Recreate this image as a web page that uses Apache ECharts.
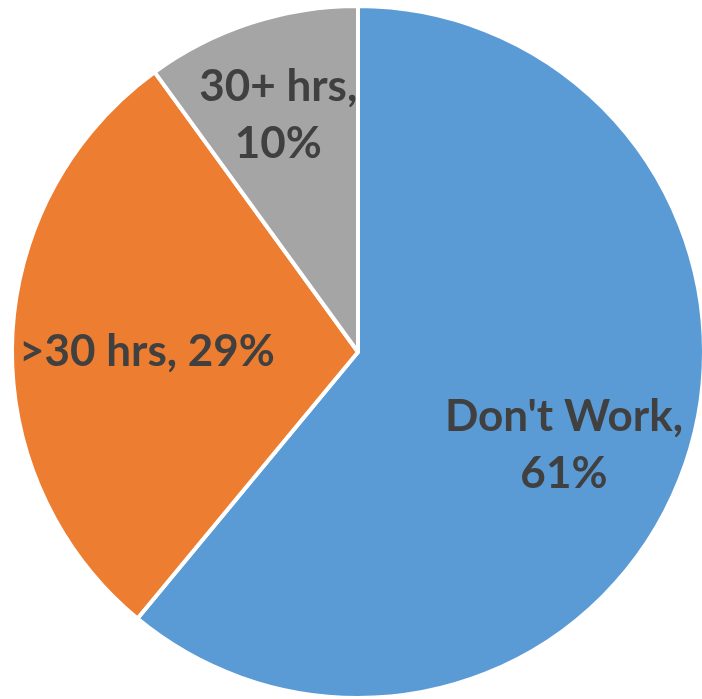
<!DOCTYPE html>
<html>
<head>
<meta charset="utf-8">
<script src="https://cdn.jsdelivr.net/npm/echarts@6/dist/echarts.min.js"></script>
<style>
  html, body { margin: 0; padding: 0; background: #ffffff; }
  #chart { width: 702px; height: 699px; }
</style>
</head>
<body>
<div id="chart"></div>
<script>
// Weekly work hours breakdown
const categories = ["Don't Work", '>30 hrs', '30+ hrs'];
const shares = [61, 29, 10];
const sliceColors = ['#5B9BD5', '#ED7D31', '#A5A5A5'];
// Which labels break onto two lines
const wrapLabel = [true, false, true];

// Label placement: fraction of the radius and a small angular nudge (degrees)
const LABEL_PLACE = [
  { frac: 0.653, nudge: 4.5 },
  { frac: 0.610, nudge: -1.8 },
  { frac: 0.723, nudge: -0.6 }
];

const CX = 358, CY = 352, R = 346;

const total = shares.reduce((a, b) => a + b, 0);
const midAngles = [];
let acc = 0;
shares.forEach(v => {
  midAngles.push(((acc + v / 2) / total) * Math.PI * 2);
  acc += v;
});

const chart = echarts.init(document.getElementById('chart'), null, { renderer: 'canvas' });

chart.setOption({
  animation: false,
  backgroundColor: '#ffffff',
  series: [{
    type: 'pie',
    center: [CX, CY],
    radius: [0, R],
    startAngle: 90,
    clockwise: true,
    data: categories.map((name, i) => ({
      name: name,
      value: shares[i],
      itemStyle: { color: sliceColors[i] }
    })),
    itemStyle: { borderColor: '#ffffff', borderWidth: 4 },
    label: {
      show: true,
      position: 'inside',
      color: '#404040',
      fontFamily: 'Lato',
      fontWeight: 'bold',
      fontSize: 44,
      lineHeight: 57,
      align: 'center',
      formatter: p => wrapLabel[p.dataIndex]
        ? p.name + ',\n' + p.value + '%'
        : p.name + ', ' + p.value + '%'
    },
    labelLine: { show: false },
    labelLayout: p => {
      const place = LABEL_PLACE[p.dataIndex];
      const a = midAngles[p.dataIndex] + place.nudge * Math.PI / 180;
      const r = R * place.frac;
      return {
        x: CX + r * Math.sin(a),
        y: CY - r * Math.cos(a),
        align: 'center',
        verticalAlign: 'middle'
      };
    },
    emphasis: { disabled: true }
  }]
});
</script>
</body>
</html>
